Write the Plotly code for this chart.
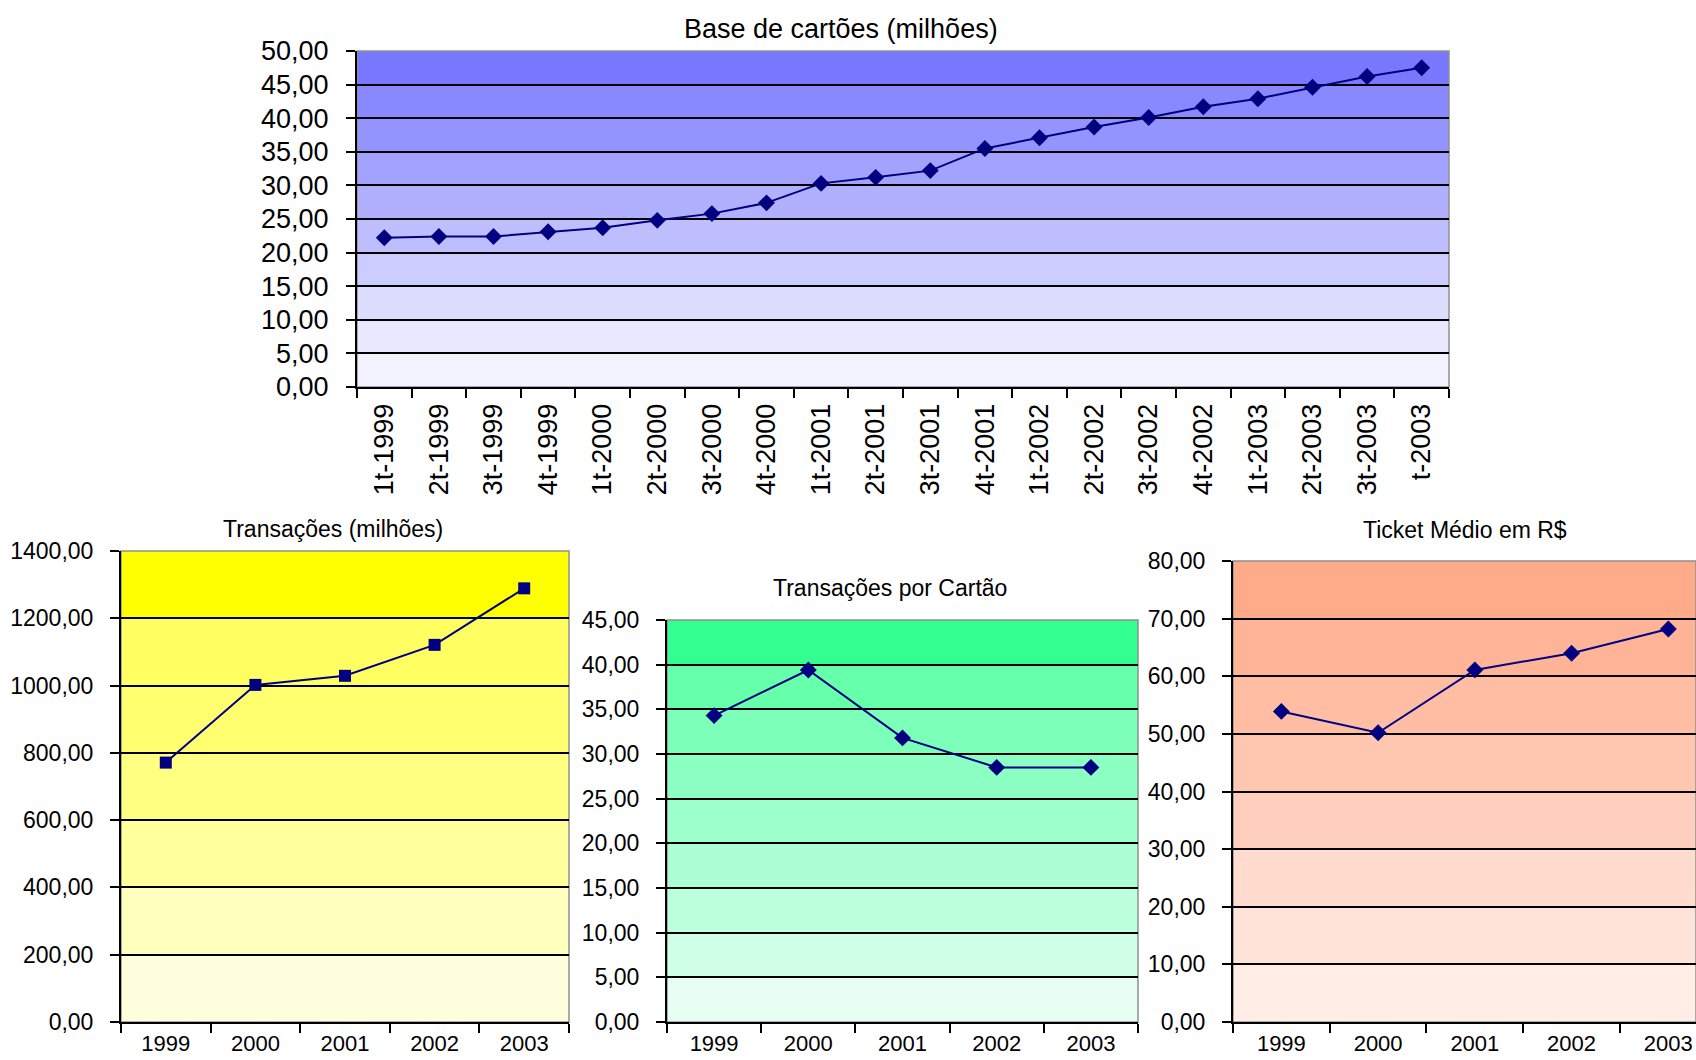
import plotly.graph_objects as go

# ---------------- data ----------------
quarters = ["1t-1999", "2t-1999", "3t-1999", "4t-1999",
            "1t-2000", "2t-2000", "3t-2000", "4t-2000",
            "1t-2001", "2t-2001", "3t-2001", "4t-2001",
            "1t-2002", "2t-2002", "3t-2002", "4t-2002",
            "1t-2003", "2t-2003", "3t-2003", "t-2003"]
base_cartoes = [22.2, 22.4, 22.4, 23.1, 23.7, 24.8, 25.8, 27.4,
                30.3, 31.2, 32.2, 35.5, 37.1, 38.7, 40.1, 41.7,
                42.9, 44.6, 46.2, 47.5]

years = ["1999", "2000", "2001", "2002", "2003"]
transacoes = [771, 1002, 1029, 1121, 1289]
trans_por_cartao = [34.3, 39.4, 31.8, 28.5, 28.5]
ticket_medio = [53.9, 50.2, 61.1, 64.0, 68.2]

titles = ["Base de cartões (milhões)", "Transações (milhões)",
          "Transações por Cartão", "Ticket Médio em R$"]

# ---------------- styling ----------------
W, H = 1696, 1060
FONT = "Liberation Sans, Arial, sans-serif"
NAVY = "#000080"

def px_x(a, b):
    return [a / W, min(b / W, 1.0)]

def px_y(top, bottom):
    return [1 - bottom / H, 1 - top / H]

blue_bands = ["#F2F2FF", "#E8E8FF", "#DDDDFF", "#CCCCFF", "#BEBEFF",
              "#B0B0FF", "#A3A3FF", "#9494FF", "#8888FF", "#7878FF"]
yellow_bands = ["#FFFFDE", "#FFFFBE", "#FFFF9C", "#FFFF82", "#FFFF70",
                "#FFFF62", "#FFFF00"]
green_bands = ["#E6FFF2", "#CFFFE6", "#BCFFDC", "#ACFFD4", "#9CFFCC",
               "#8CFFC2", "#7CFFB8", "#66FFAA", "#33FF90"]
orange_bands = ["#FFEDE6", "#FFE2D8", "#FFDCCE", "#FFCFBE", "#FFC6B0",
                "#FFBDA4", "#FFB498", "#FFAA88"]

fig = go.Figure()

panels = [
    dict(x=quarters, y=base_cartoes, sym="diamond", msize=13, ymax=50, dtick=5,
         bands=blue_bands, xdom=px_x(357, 1449), ydom=px_y(51, 387),
         xrange=[-0.5, 19.5], fs=27, xfs=27, angle=-90, stand=4),
    dict(x=years, y=transacoes, sym="square", msize=12, ymax=1400, dtick=200,
         bands=yellow_bands, xdom=px_x(121, 569), ydom=px_y(551, 1022),
         xrange=[-0.5, 4.5], fs=23, xfs=22, angle=0, stand=1),
    dict(x=years, y=trans_por_cartao, sym="diamond", msize=13, ymax=45, dtick=5,
         bands=green_bands, xdom=px_x(667, 1138), ydom=px_y(620, 1022),
         xrange=[-0.5, 4.5], fs=23, xfs=22, angle=0, stand=1),
    dict(x=years, y=ticket_medio, sym="diamond", msize=13, ymax=80, dtick=10,
         bands=orange_bands, xdom=px_x(1233, 1696), ydom=px_y(561, 1022),
         xrange=[-0.5, 4.286], fs=23, xfs=22, angle=0, stand=1),
]

shapes = []
layout_axes = {}
for i, p in enumerate(panels):
    k = "" if i == 0 else str(i + 1)
    xa, ya = "x" + k, "y" + k
    fig.add_trace(go.Scatter(
        x=p["x"], y=p["y"], xaxis=xa, yaxis=ya, mode="lines+markers",
        line=dict(color=NAVY, width=2),
        marker=dict(symbol=p["sym"], size=p["msize"], color=NAVY),
        showlegend=False, hoverinfo="x+y"))
    for b, col in enumerate(p["bands"]):
        shapes.append(dict(type="rect", xref=xa + " domain", yref=ya,
                           x0=0, x1=1, y0=b * p["dtick"], y1=(b + 1) * p["dtick"],
                           fillcolor=col, line=dict(width=0), layer="below"))
    shapes.append(dict(type="rect", xref=xa + " domain", yref=ya + " domain",
                       x0=0, x1=1, y0=0, y1=1, fillcolor="rgba(0,0,0,0)",
                       line=dict(color="#909090", width=1.5), layer="below"))
    layout_axes["xaxis" + k] = dict(
        domain=p["xdom"], anchor=ya, type="category", range=p["xrange"],
        automargin=False,
        showgrid=False, zeroline=False, showline=True, linecolor="black",
        linewidth=2, ticks="outside", ticklen=9, tickwidth=2, tickcolor="black",
        tickson="boundaries", tickangle=p["angle"],
        tickfont=dict(family=FONT, size=p["xfs"], color="black"),
        ticklabelstandoff=p["stand"], fixedrange=True)
    layout_axes["yaxis" + k] = dict(
        domain=p["ydom"], anchor=xa, range=[0, p["ymax"]], dtick=p["dtick"],
        automargin=False,
        tick0=0, tickformat=".2f", showgrid=True, gridcolor="black",
        gridwidth=2, zeroline=False, showline=True, linecolor="black",
        linewidth=2, ticks="outside", ticklen=9, tickwidth=2, tickcolor="black",
        tickfont=dict(family=FONT, size=p["fs"], color="black"),
        ticklabelstandoff=12, fixedrange=True)

annotations = []
title_pos = [(841, 29, 27), (333, 529, 23), (890, 588, 23), (1465, 530, 23)]
for t, (cx, cy, fs) in zip(titles, title_pos):
    annotations.append(dict(text=t, xref="paper", yref="paper",
                            x=cx / W, y=1 - cy / H, xanchor="center",
                            yanchor="middle", showarrow=False,
                            font=dict(family=FONT, size=fs, color="black")))

fig.update_layout(
    width=W, height=H, margin=dict(l=0, r=0, t=0, b=0, autoexpand=False),
    paper_bgcolor="white", plot_bgcolor="white",
    separators=",.", shapes=shapes, annotations=annotations,
    showlegend=False, **layout_axes)

fig.write_html("out.html", config={"displayModeBar": False},
               post_script="document.body.style.margin='0';document.body.style.overflow='hidden';")
